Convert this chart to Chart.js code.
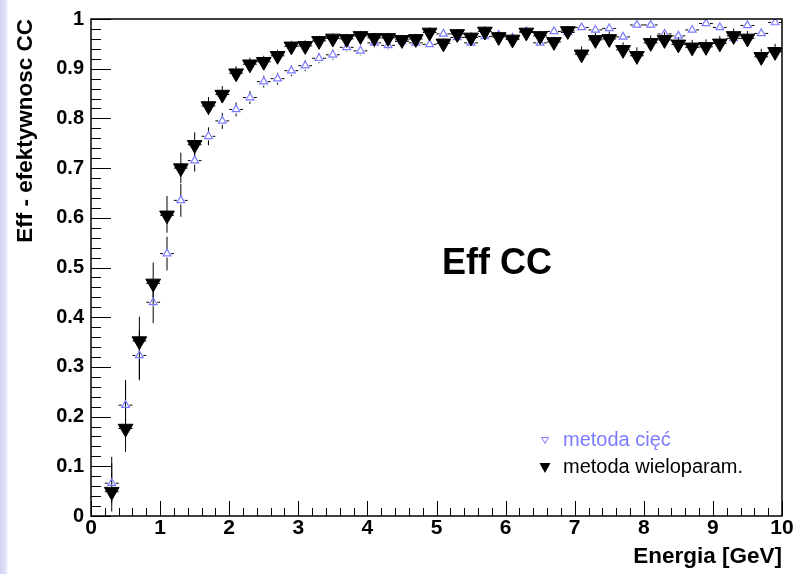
<!DOCTYPE html>
<html>
<head>
<meta charset="utf-8">
<title>Eff CC</title>
<style>
  html, body { margin: 0; padding: 0; }
  body {
    width: 797px; height: 574px; overflow: hidden;
    background: linear-gradient(to right, #d3d3f2 0px, #e2e2f8 6px, #ffffff 8px, #ffffff 100%);
  }
  #wrap { position: relative; width: 797px; height: 574px; }
  canvas { display: block; }
</style>
<script src="https://cdn.jsdelivr.net/npm/chart.js@4.4.1/dist/chart.umd.min.js"></script>
</head>
<body>
<div id="wrap"><canvas id="c" width="797" height="574"></canvas></div>
<script>
// Bin centres (GeV), bin width 0.2 GeV
const energy = [0.3, 0.5, 0.7, 0.9, 1.1, 1.3, 1.5, 1.7, 1.9, 2.1,
                2.3, 2.5, 2.7, 2.9, 3.1, 3.3, 3.5, 3.7, 3.9, 4.1,
                4.3, 4.5, 4.7, 4.9, 5.1, 5.3, 5.5, 5.7, 5.9, 6.1,
                6.3, 6.5, 6.7, 6.9, 7.1, 7.3, 7.5, 7.7, 7.9, 8.1,
                8.3, 8.5, 8.7, 8.9, 9.1, 9.3, 9.5, 9.7, 9.9];
const binHalfWidth = 0.1;

// Efficiency of the cut-based method
const effCuts = [0.066, 0.223, 0.323, 0.430, 0.528, 0.635, 0.715, 0.764, 0.795, 0.818,
                 0.842, 0.874, 0.880, 0.896, 0.906, 0.921, 0.928, 0.943, 0.936, 0.952,
                 0.947, 0.955, 0.952, 0.949, 0.970, 0.963, 0.952, 0.965, 0.968, 0.962,
                 0.975, 0.952, 0.975, 0.973, 0.983, 0.978, 0.981, 0.964, 0.988, 0.988,
                 0.970, 0.966, 0.978, 0.991, 0.983, 0.961, 0.987, 0.971, 0.993];
const errCuts = [0.040, 0.050, 0.050, 0.042, 0.034, 0.033, 0.022, 0.018, 0.016, 0.014,
                 0.013, 0.012, 0.012, 0.011, 0.011, 0.010, 0.010, 0.009, 0.009, 0.009,
                 0.009, 0.008, 0.008, 0.008, 0.008, 0.008, 0.008, 0.008, 0.008, 0.008,
                 0.008, 0.008, 0.008, 0.008, 0.008, 0.008, 0.008, 0.008, 0.008, 0.008,
                 0.008, 0.008, 0.008, 0.008, 0.008, 0.008, 0.008, 0.008, 0.008];

// Efficiency of the multivariate method
const effMulti = [0.049, 0.176, 0.352, 0.468, 0.605, 0.700, 0.747, 0.825, 0.848, 0.891,
                  0.909, 0.914, 0.926, 0.945, 0.946, 0.956, 0.961, 0.960, 0.966, 0.962,
                  0.962, 0.958, 0.960, 0.973, 0.951, 0.970, 0.963, 0.975, 0.964, 0.959,
                  0.973, 0.966, 0.954, 0.976, 0.929, 0.958, 0.960, 0.938, 0.926, 0.952,
                  0.958, 0.949, 0.943, 0.944, 0.951, 0.966, 0.961, 0.924, 0.934];
const errMultiUp = [0.070, 0.097, 0.049, 0.042, 0.039, 0.031, 0.025, 0.018, 0.017, 0.014,
                    0.013, 0.012, 0.012, 0.011, 0.011, 0.010, 0.010, 0.010, 0.010, 0.010,
                    0.010, 0.010, 0.010, 0.010, 0.010, 0.010, 0.010, 0.010, 0.010, 0.010,
                    0.010, 0.010, 0.010, 0.010, 0.016, 0.015, 0.015, 0.015, 0.017, 0.015,
                    0.015, 0.015, 0.015, 0.015, 0.015, 0.015, 0.015, 0.016, 0.016];
const errMultiDown = [0.040, 0.047, 0.076, 0.045, 0.035, 0.030, 0.025, 0.018, 0.017, 0.014,
                      0.013, 0.012, 0.012, 0.011, 0.011, 0.010, 0.010, 0.010, 0.010, 0.010,
                      0.010, 0.010, 0.010, 0.010, 0.010, 0.010, 0.010, 0.010, 0.010, 0.010,
                      0.010, 0.010, 0.010, 0.010, 0.016, 0.015, 0.015, 0.015, 0.017, 0.015,
                      0.015, 0.015, 0.015, 0.015, 0.015, 0.015, 0.015, 0.016, 0.016];

const yTicks = [0, 0.1, 0.2, 0.3, 0.4, 0.5, 0.6, 0.7, 0.8, 0.9, 1];
const xTicks = [0, 1, 2, 3, 4, 5, 6, 7, 8, 9, 10];

const labelCuts = 'metoda cięć';
const labelMulti = 'metoda wieloparam.';
const plotTitle = 'Eff CC';
const xTitle = 'Energia [GeV]';
const yTitle = 'Eff - efektywnosc CC';

const BLUE = '#7b7bff';
const FONT = '"Liberation Sans", Arial, Helvetica, sans-serif';

// Frame, inward tick marks, error bars, title and legend
const decorations = {
  id: 'decorations',
  beforeDatasetsDraw(chart) {
    const { ctx, chartArea: a, scales: { x, y } } = chart;
    ctx.save();
    ctx.strokeStyle = '#000';
    ctx.lineWidth = 1;

    // minor / major ticks on the y axis (drawn inward)
    for (let i = 0; i <= 50; i++) {
      const py = Math.round(y.getPixelForValue(i * 0.02)) + 0.5;
      const len = (i % 5 === 0) ? 20 : 10;
      ctx.beginPath(); ctx.moveTo(a.left, py); ctx.lineTo(a.left + len, py); ctx.stroke();
    }
    // minor / major ticks on the x axis
    for (let i = 0; i <= 50; i++) {
      const px = Math.round(x.getPixelForValue(i * 0.2)) + 0.5;
      const len = (i % 5 === 0) ? 15 : 8;
      ctx.beginPath(); ctx.moveTo(px, a.bottom); ctx.lineTo(px, a.bottom - len); ctx.stroke();
    }

    // error bars: multivariate (full lines under the filled markers)
    energy.forEach((e, i) => {
      const px = x.getPixelForValue(e);
      const py = y.getPixelForValue(effMulti[i]);
      const x0 = x.getPixelForValue(e - binHalfWidth);
      const x1 = x.getPixelForValue(e + binHalfWidth);
      ctx.beginPath();
      ctx.moveTo(x0, py); ctx.lineTo(x1, py);
      ctx.moveTo(px, y.getPixelForValue(effMulti[i] + errMultiUp[i]));
      ctx.lineTo(px, y.getPixelForValue(effMulti[i] - errMultiDown[i]));
      ctx.stroke();
    });
    // error bars: cut-based (gap left around the open marker)
    const gap = 4;
    energy.forEach((e, i) => {
      const px = x.getPixelForValue(e);
      const py = y.getPixelForValue(effCuts[i]);
      const x0 = x.getPixelForValue(e - binHalfWidth);
      const x1 = x.getPixelForValue(e + binHalfWidth);
      const yt = y.getPixelForValue(effCuts[i] + errCuts[i]);
      const yb = y.getPixelForValue(effCuts[i] - errCuts[i]);
      ctx.beginPath();
      ctx.moveTo(x0, py); ctx.lineTo(px - gap, py);
      ctx.moveTo(px + gap, py); ctx.lineTo(x1, py);
      if (py - yt > gap) { ctx.moveTo(px, yt); ctx.lineTo(px, py - gap); }
      if (yb - py > gap) { ctx.moveTo(px, py + gap); ctx.lineTo(px, yb); }
      ctx.stroke();
    });
    ctx.restore();
  },
  afterDatasetsDraw(chart) {
    const { ctx, chartArea: a } = chart;
    ctx.save();
    // frame
    ctx.strokeStyle = '#000';
    ctx.lineWidth = 1.5;
    ctx.strokeRect(a.left, a.top, a.right - a.left, a.bottom - a.top);

    // title inside the plot
    ctx.fillStyle = '#000';
    ctx.font = 'bold 36px ' + FONT;
    ctx.textAlign = 'center';
    ctx.textBaseline = 'alphabetic';
    ctx.fillText(plotTitle, 497, 274);

    // legend markers
    ctx.strokeStyle = BLUE;
    ctx.lineWidth = 1;
    ctx.beginPath();
    ctx.moveTo(541.5, 437.5); ctx.lineTo(548.5, 437.5); ctx.lineTo(545, 443.5); ctx.closePath();
    ctx.stroke();
    ctx.fillStyle = '#000';
    ctx.beginPath();
    ctx.moveTo(539.5, 463); ctx.lineTo(550.5, 463); ctx.lineTo(545, 473); ctx.closePath();
    ctx.fill();

    // legend texts
    ctx.font = '20px ' + FONT;
    ctx.textAlign = 'left';
    ctx.fillStyle = BLUE;
    ctx.fillText(labelCuts, 563, 446);
    ctx.fillStyle = '#000';
    ctx.fillText(labelMulti, 563, 473);
    ctx.restore();
  }
};

const ctx = document.getElementById('c').getContext('2d');
new Chart(ctx, {
  type: 'scatter',
  data: {
    datasets: [
      {
        label: labelMulti,
        data: energy.map((e, i) => ({ x: e, y: effMulti[i] })),
        pointStyle: 'triangle',
        rotation: 180,
        pointRadius: 8.5,
        backgroundColor: '#000',
        borderColor: '#000',
        borderWidth: 1,
        showLine: false
      },
      {
        label: labelCuts,
        data: energy.map((e, i) => ({ x: e, y: effCuts[i] })),
        pointStyle: 'triangle',
        pointRadius: 4.5,
        backgroundColor: 'rgba(255,255,255,0)',
        borderColor: BLUE,
        borderWidth: 1.2,
        showLine: false
      }
    ]
  },
  options: {
    responsive: false,
    animation: false,
    devicePixelRatio: 1,
    layout: { padding: { left: 0, top: 17, right: 15, bottom: 0 } },
    plugins: { legend: { display: false }, tooltip: { enabled: false } },
    scales: {
      x: {
        type: 'linear', min: 0, max: 10,
        grid: { display: false, drawTicks: false },
        border: { display: false },
        afterBuildTicks(s) { s.ticks = xTicks.map(v => ({ value: v })); },
        afterFit(s) { s.height = 58; },
        ticks: {
          color: '#000', padding: 0, maxRotation: 0, autoSkip: false,
          font: { family: FONT, weight: 'bold', size: 21 },
          callback: v => String(v)
        },
        title: {
          display: true, text: xTitle, align: 'end', color: '#000',
          font: { family: FONT, weight: 'bold', size: 22.5 },
          padding: { top: 0, bottom: 4 }
        }
      },
      y: {
        type: 'linear', min: 0, max: 1,
        grid: { display: false, drawTicks: false },
        border: { display: false },
        afterBuildTicks(s) { s.ticks = yTicks.map(v => ({ value: v })); },
        afterFit(s) { s.width = 91; },
        ticks: {
          color: '#000', padding: 7, autoSkip: false,
          font: { family: FONT, weight: 'bold', size: 20 },
          callback: v => String(Number(v.toFixed(1)))
        },
        title: {
          display: true, text: yTitle, align: 'end', color: '#000',
          font: { family: FONT, weight: 'bold', size: 22.5 },
          padding: { top: 12, bottom: 0 }
        }
      }
    }
  },
  plugins: [decorations]
});
</script>
</body>
</html>
